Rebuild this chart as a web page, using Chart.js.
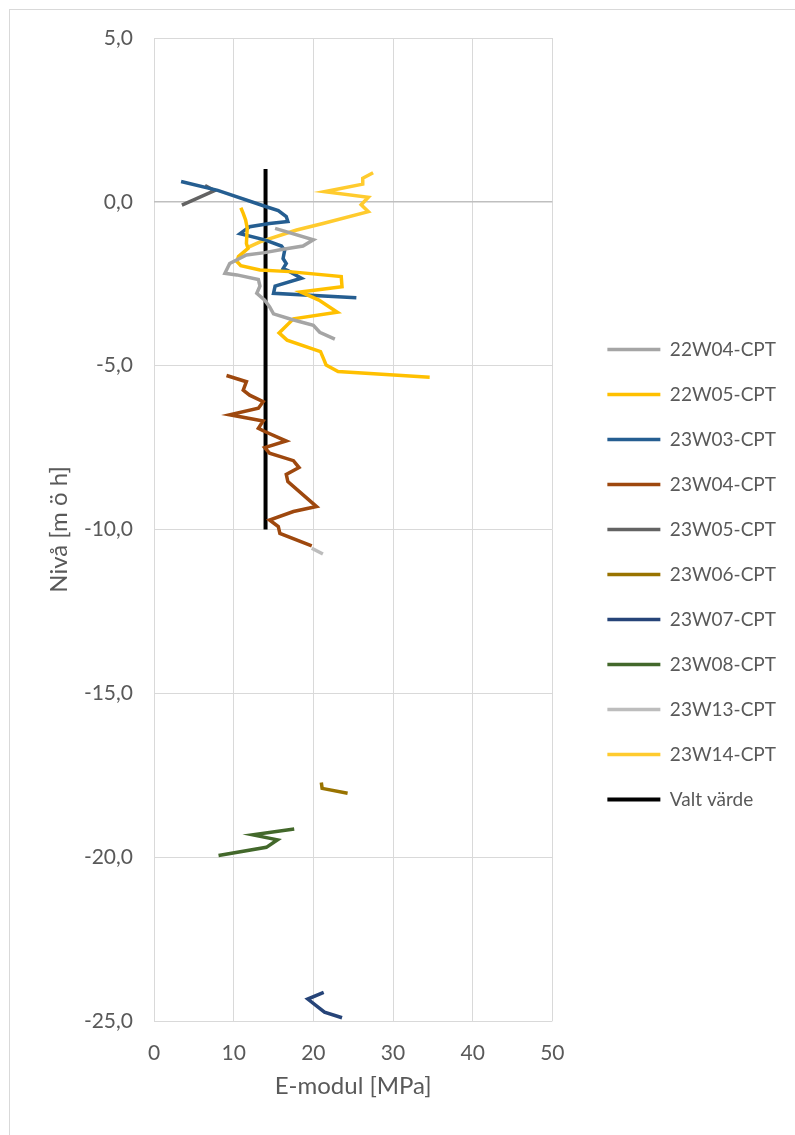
<!DOCTYPE html>
<html lang="sv">
<head>
<meta charset="UTF-8" />
<script src="https://cdn.jsdelivr.net/npm/chart.js@4.4.0/dist/chart.umd.min.js"></script>
<title>E-modul</title>
<style>
	html, body { margin: 0; padding: 0; background: #fff; }
	#frame { position: absolute; left: 9px; top: 9px; width: 800px; height: 1140px; border: 1px solid #d9d9d9; }
	#chart { position: absolute; left: 0; top: 0; }
</style>
</head>
<body>
<div id="frame"></div>
<canvas id="chart" width="795" height="1135"></canvas>
<script>
// E-modul [MPa] (x) och nivå [m ö h] (y) per sondering
const e22W04 = [15.2, 20.0, 18.7, 16.2, 13.9, 11.6, 9.5, 8.9, 10.4, 13.1, 13.3, 12.9, 13.9, 14.5, 15.0, 17.3, 20.0, 20.8, 22.7];
const l22W04 = [-0.81, -1.16, -1.35, -1.45, -1.55, -1.62, -1.88, -2.18, -2.23, -2.37, -2.57, -2.79, -3.0, -3.2, -3.42, -3.59, -3.77, -3.98, -4.19];

const e22W05 = [10.9, 11.2, 11.5, 11.7, 11.6, 11.8, 10.6, 10.4, 10.9, 13.3, 17.0, 23.5, 23.6, 22.1, 18.4, 20.7, 23.0, 17.5, 15.7, 16.7, 20.9, 21.3, 21.6, 23.1, 34.6];
const l22W05 = [-0.18, -0.35, -0.55, -0.8, -1.27, -1.42, -1.67, -1.82, -1.95, -2.08, -2.13, -2.28, -2.59, -2.64, -2.75, -3.0, -3.37, -3.57, -4.0, -4.22, -4.57, -4.8, -4.98, -5.18, -5.35];

const e23W03 = [3.4, 8.0, 14.1, 15.6, 16.6, 16.8, 14.5, 12.0, 10.8, 13.9, 16.0, 16.4, 16.2, 16.6, 16.2, 16.8, 18.5, 15.2, 15.0, 25.4];
const l23W03 = [0.62, 0.35, -0.15, -0.27, -0.45, -0.6, -0.66, -0.76, -0.97, -1.16, -1.35, -1.48, -1.73, -1.88, -2.04, -2.1, -2.33, -2.57, -2.79, -2.93];

const e23W04 = [9.1, 11.6, 11.2, 12.0, 13.7, 13.1, 9.5, 13.7, 13.1, 13.9, 16.6, 13.9, 14.5, 17.5, 18.2, 16.6, 16.8, 20.4, 17.5, 14.5, 15.6, 15.8, 19.8];
const l23W04 = [-5.3, -5.49, -5.75, -5.9, -6.1, -6.3, -6.5, -6.69, -6.91, -7.01, -7.3, -7.5, -7.67, -7.9, -8.11, -8.32, -8.54, -9.3, -9.45, -9.71, -9.91, -10.12, -10.5];

const e23W05 = [3.5, 7.6, 6.4];
const l23W05 = [-0.1, 0.34, 0.5];

const e23W06 = [21.0, 21.1, 24.3];
const l23W06 = [-17.72, -17.9, -18.05];

const e23W07 = [21.3, 19.3, 21.4, 23.6];
const l23W07 = [-24.13, -24.33, -24.73, -24.9];

const e23W08 = [17.6, 12.4, 15.5, 14.1, 8.1];
const l23W08 = [-19.14, -19.32, -19.47, -19.7, -19.95];

const e23W13 = [19.8, 21.2];
const l23W13 = [-10.57, -10.75];

const e23W14 = [27.5, 26.2, 26.2, 21.4, 26.9, 26.0, 26.9, 21.2, 17.9, 13.3, 11.8];
const l23W14 = [0.89, 0.72, 0.54, 0.31, 0.14, -0.09, -0.3, -0.66, -0.86, -1.22, -1.39];

const eValt = [14, 14];
const lValt = [1, -10];

const seriesNames = ['22W04-CPT', '22W05-CPT', '23W03-CPT', '23W04-CPT', '23W05-CPT', '23W06-CPT', '23W07-CPT', '23W08-CPT', '23W13-CPT', '23W14-CPT', 'Valt värde'];
const seriesE = [e22W04, e22W05, e23W03, e23W04, e23W05, e23W06, e23W07, e23W08, e23W13, e23W14, eValt];
const seriesL = [l22W04, l22W05, l23W03, l23W04, l23W05, l23W06, l23W07, l23W08, l23W13, l23W14, lValt];
const colors = ['#a5a5a5', '#ffc000', '#255e91', '#9e480e', '#636363', '#997300', '#264478', '#43682b', '#bdbdbd', '#ffcb2e', '#000000'];

const xMin = 0, xMax = 50, xStep = 10;
const yMin = -25, yMax = 5, yStep = 5;

const font = 'Lato, "Open Sans", sans-serif';
const textColor = '#595959';

const datasets = seriesNames.map((name, i) => ({
	label: name,
	data: seriesE[i].map((x, j) => ({ x: x, y: seriesL[i][j] })),
	borderColor: colors[i],
	backgroundColor: colors[i],
	borderWidth: i === 10 ? 4 : 3.5,
	showLine: true,
	pointRadius: 0,
	fill: false,
	tension: 0
}));

new Chart(document.getElementById('chart'), {
	type: 'scatter',
	data: { datasets: datasets },
	options: {
		responsive: false,
		animation: false,
		layout: { padding: { left: 40, top: 38, right: 9, bottom: 24 } },
		plugins: {
			tooltip: { enabled: false },
			legend: {
				position: 'right',
				align: 'center',
				maxWidth: 300,
				labels: {
					usePointStyle: true,
					pointStyle: 'line',
					pointStyleWidth: 53,
					padding: 26,
					color: textColor,
					font: { family: font, size: 19 }
				}
			}
		},
		scales: {
			x: {
				type: 'linear',
				min: xMin,
				max: xMax,
				ticks: { stepSize: xStep, color: textColor, padding: 20, font: { family: font, size: 21 } },
				grid: { color: '#d9d9d9', drawTicks: false },
				border: { display: false },
				title: { display: true, text: 'E-modul [MPa]', color: textColor, padding: { top: 0, bottom: 10 }, font: { family: font, size: 24 } },
				afterFit: (s) => { s.height = 90; }
			},
			y: {
				type: 'linear',
				min: yMin,
				max: yMax,
				ticks: {
					stepSize: yStep,
					color: textColor,
					padding: 21,
					font: { family: font, size: 21 },
					callback: (v) => v.toFixed(1).replace('.', ',')
				},
				grid: {
					color: (c) => (c.tick && c.tick.value === 0 ? '#bfbfbf' : '#d9d9d9'),
					lineWidth: (c) => (c.tick && c.tick.value === 0 ? 1.5 : 1),
					drawTicks: false
				},
				border: { display: false },
				title: { display: true, text: 'Nivå [m ö h]', color: textColor, padding: { top: 5, bottom: 0 }, font: { family: font, size: 24 } },
				afterFit: (s) => { s.width = 114; }
			},
			gap: {
				type: 'linear',
				position: 'right',
				display: true,
				ticks: { display: false },
				grid: { display: false },
				border: { display: false },
				afterFit: (s) => { s.width = 29; }
			}
		}
	}
});
</script>
</body>
</html>
